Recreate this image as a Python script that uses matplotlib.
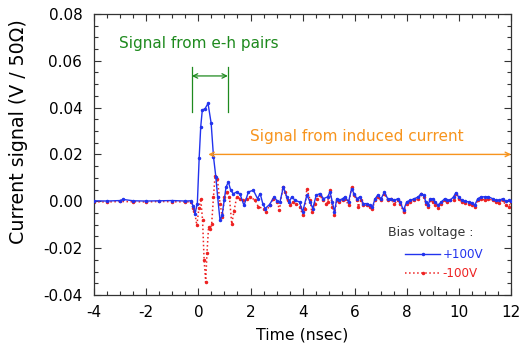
import matplotlib
matplotlib.use("Agg")
import matplotlib.pyplot as plt
from matplotlib.ticker import MultipleLocator

plt.rcParams['font.family'] = ['DejaVu Sans']

# ---- data ----
t_pos = [-4.0, -3.5, -3.0, -2.9, -2.5, -2.0, -1.5, -1.0, -0.5, -0.3,
         -0.2, -0.13, -0.04, 0.03, 0.09, 0.15, 0.26, 0.37, 0.49, 0.58,
         0.67, 0.74, 0.83, 0.91, 0.99, 1.06, 1.15, 1.24, 1.34, 1.47,
         1.60, 1.75, 1.92, 2.11, 2.27, 2.37, 2.47, 2.56, 2.73, 2.91,
         3.03, 3.13, 3.26, 3.39, 3.49, 3.58, 3.71, 3.88, 4.00, 4.16,
         4.29, 4.39, 4.52, 4.67, 4.80, 4.96, 5.05, 5.14, 5.22, 5.31,
         5.40, 5.53, 5.63, 5.76, 5.88, 5.97, 6.08, 6.20, 6.33, 6.46,
         6.59, 6.68, 6.78, 6.88, 7.01, 7.14, 7.26, 7.39, 7.52, 7.65,
         7.74, 7.87, 7.99, 8.12, 8.29, 8.44, 8.55, 8.64, 8.73, 8.81,
         8.90, 8.99, 9.09, 9.19, 9.32, 9.45, 9.54, 9.66, 9.79, 9.88,
         9.98, 10.11, 10.24, 10.37, 10.49, 10.60, 10.72, 10.85, 11.01, 11.13,
         11.29, 11.42, 11.54, 11.67, 11.80, 11.90, 12.0]
v_pos = [0.0002, 0.0001, 0.0003, 0.0008, 0.0002, 0.0001, 0.0002, 0.0003, 0.0001, 0.0002,
         -0.002, -0.0053, -0.001, 0.0184, 0.0318, 0.0389, 0.0396, 0.0418, 0.0333, 0.019,
         0.0104, 0.0018, -0.0081, -0.006, 0.0004, 0.006, 0.0083, 0.0047, 0.0032, 0.004,
         0.003, -0.0018, 0.004, 0.0047, 0.0011, 0.0033, -0.001, -0.0031, -0.0014, 0.0019,
         0.0, -0.0003, 0.0061, 0.0019, -0.0003, 0.0019, 0.0004, -0.0003, -0.0046, 0.0026,
         -0.0003, -0.0031, 0.0026, 0.0033, 0.0011, 0.0019, 0.0040, -0.0003, -0.0046, 0.0011,
         0.0004, 0.0011, 0.0019, -0.0003, 0.0054, 0.0033, 0.0011, 0.0019, -0.0010, -0.0010,
         -0.0017, -0.0024, 0.0011, 0.0026, 0.0011, 0.0040, 0.0011, 0.0011, 0.0004, 0.0011,
         -0.0003, -0.0038, -0.0003, 0.0004, 0.0011, 0.0019, 0.0033, 0.0026, -0.0003, -0.0017,
         0.0011, 0.0011, -0.0003, -0.0017, -0.0003, 0.0011, 0.0004, 0.0004, 0.0019, 0.0037,
         0.0019, 0.0004, 0.0, -0.0003, -0.0006, -0.0017, 0.0011, 0.0019, 0.0019, 0.0019,
         0.0011, 0.0004, 0.0004, 0.0011, 0.0, 0.0004, 0.0]

t_neg = [-4.0, -3.5, -3.0, -2.5, -2.0, -1.5, -1.0, -0.5, -0.3,
         -0.2, -0.15, -0.06, 0.02, 0.09, 0.16, 0.22, 0.28, 0.33, 0.39,
         0.45, 0.51, 0.58, 0.64, 0.73, 0.83, 0.92, 1.00, 1.09, 1.19,
         1.28, 1.37, 1.47, 1.60, 1.73, 1.86, 1.98, 2.18, 2.30, 2.50,
         2.60, 2.73, 2.88, 3.03, 3.11, 3.24, 3.33, 3.42, 3.52, 3.62,
         3.75, 3.90, 4.00, 4.09, 4.16, 4.29, 4.35, 4.48, 4.57, 4.67,
         4.77, 4.90, 4.96, 5.05, 5.14, 5.22, 5.31, 5.40, 5.53, 5.63,
         5.76, 5.88, 5.97, 6.08, 6.14, 6.24, 6.33, 6.46, 6.59, 6.68,
         6.78, 6.88, 7.01, 7.14, 7.26, 7.39, 7.52, 7.65, 7.74, 7.87,
         7.99, 8.12, 8.29, 8.44, 8.55, 8.64, 8.73, 8.81, 8.90, 8.99,
         9.09, 9.19, 9.32, 9.45, 9.54, 9.66, 9.79, 9.88, 9.98, 10.11,
         10.24, 10.37, 10.49, 10.60, 10.72, 10.85, 11.01, 11.13, 11.29, 11.42,
         11.54, 11.67, 11.80, 11.90, 12.0]
v_neg = [-0.0002, -0.0003, -0.0001, -0.0002, -0.0003, -0.0001, -0.0002, -0.0003, -0.0002,
         -0.003, -0.004, -0.0103, -0.003, 0.0011, -0.008, -0.025, -0.0345, -0.022, -0.0111,
         -0.012, -0.0097, 0.002, 0.0109, 0.0095, -0.001, -0.0068, 0.0018, 0.004, 0.0018,
         -0.0097, -0.004, 0.0018, 0.0011, 0.0004, 0.0011, 0.0019, 0.0004, -0.0024, -0.0031,
         -0.0046, -0.0017, 0.0011, -0.0003, -0.0038, 0.0061, 0.0040, 0.0004, -0.0017, -0.0003,
         -0.0010, -0.0024, -0.0060, -0.0031, 0.0054, 0.0004, -0.0046, -0.0010, 0.0011, 0.0026,
         0.0004, -0.0010, -0.0003, 0.0047, -0.0024, -0.0060, 0.0004, -0.0003, 0.0004, 0.0011,
         -0.0017, 0.0061, 0.0026, 0.0004, -0.0024, 0.0004, -0.0017, -0.0017, -0.0024, -0.0031,
         0.0004, 0.0019, 0.0004, 0.0033, 0.0004, 0.0011, -0.0010, 0.0004, -0.0010, -0.0046,
         -0.0010, -0.0003, 0.0004, 0.0011, 0.0033, 0.0019, -0.0010, -0.0024, 0.0004, -0.0003,
         -0.0017, -0.0028, -0.0010, 0.0004, -0.0003, 0.0004, 0.0004, 0.0033, 0.0011, -0.0003,
         -0.0006, -0.0010, -0.0014, -0.0024, 0.0004, 0.0011, 0.0004, 0.0011, 0.0004, -0.0003,
         -0.0006, 0.0004, -0.0017, -0.0024, -0.0003]

series_labels = ['+100V', '-100V']
legend_title = 'Bias voltage :'
xticks = [-4, -2, 0, 2, 4, 6, 8, 10, 12]
yticks = [-0.04, -0.02, 0.00, 0.02, 0.04, 0.06, 0.08]

blue = '#2233ee'
red = '#ee2222'
green = '#1e8a1e'
orange = '#f7941d'

fig = plt.figure(figsize=(5.2, 3.47), dpi=100)
ax = fig.add_axes([0.181, 0.150, 0.802, 0.810])

ax.plot(t_pos, v_pos, '-', color=blue, lw=1.0, marker='o', ms=1.5,
        label=series_labels[0], zorder=3)
ax.plot(t_neg, v_neg, ':', color=red, lw=1.1, marker='o', ms=1.5,
        label=series_labels[1], zorder=2)

ax.set_xlim(-4, 12)
ax.set_ylim(-0.04, 0.08)
ax.set_xticks(xticks)
ax.set_yticks(yticks)
ax.set_xticklabels([str(x) for x in xticks])
ax.set_yticklabels([f"{y:.2f}" for y in yticks])
ax.xaxis.set_minor_locator(MultipleLocator(0.5))
ax.yaxis.set_minor_locator(MultipleLocator(0.005))
ax.tick_params(which='both', direction='in', top=True, right=True,
               labelsize=11, colors='#333333', labelcolor='black')
ax.tick_params(which='major', length=5, width=0.8)
ax.tick_params(which='minor', length=3, width=0.8)
ax.tick_params(axis='y', which='major', pad=8.5)
ax.tick_params(axis='x', which='major', pad=7.5)
for s in ax.spines.values():
    s.set_color('#333333')
    s.set_linewidth(0.9)

ax.set_xlabel('Time (nsec)', fontsize=11.3, labelpad=5)
ax.set_ylabel('Current signal (V / 50Ω)', fontsize=13.7)
ax.yaxis.set_label_coords(-0.158, 0.58)

# annotations
ax.text(0.0, 0.0672, 'Signal from e-h pairs', color=green, fontsize=11,
        ha='center', va='center')
ax.plot([-0.25, -0.25], [0.0381, 0.0573], color=green, lw=0.9)
ax.plot([1.13, 1.13], [0.0381, 0.0573], color=green, lw=0.9)
ax.annotate('', xy=(-0.25, 0.0535), xytext=(1.13, 0.0535),
            arrowprops=dict(arrowstyle='<->', color=green, lw=0.9,
                            shrinkA=0, shrinkB=0, mutation_scale=8))

ax.text(6.07, 0.0275, 'Signal from induced current', color=orange,
        fontsize=11, ha='center', va='center')
ax.annotate('', xy=(0.38, 0.020), xytext=(12.0, 0.020),
            arrowprops=dict(arrowstyle='<->', color=orange, lw=1.0,
                            shrinkA=0, shrinkB=0, mutation_scale=8))

# legend
ax.text(0.806, 0.221, legend_title, transform=ax.transAxes, color='#333333',
        fontsize=9, ha='center', va='center')
leg = ax.legend(frameon=False, loc='center left', bbox_to_anchor=(0.746, 0.110),
                fontsize=8.6, handlelength=2.9, handletextpad=0.25,
                labelcolor='linecolor', borderpad=0, borderaxespad=0,
                labelspacing=0.45)

fig.savefig('out.png', dpi=100)
